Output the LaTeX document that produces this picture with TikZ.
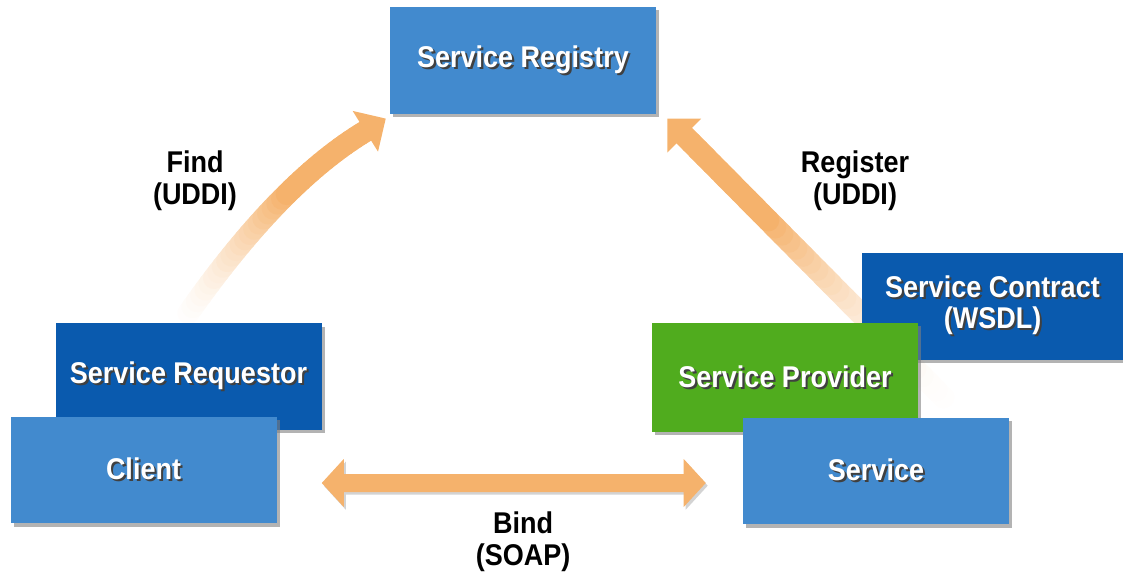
\documentclass[tikz,border=0pt]{standalone}
\usepackage{fontspec}
\setmainfont{Liberation Sans}[FakeStretch=0.9]
\usetikzlibrary{shadows,calc,backgrounds}
\definecolor{midblue}{RGB}{66,138,206}
\definecolor{darkblue}{RGB}{10,90,174}
\definecolor{provgreen}{RGB}{80,172,30}
\definecolor{arrowc}{RGB}{245,178,108}
\newcommand{\shtxt}[1]{\leavevmode\rlap{\hspace{1.6pt}\raisebox{-1.6pt}{\textcolor{black!75}{#1}}}\textcolor{white}{#1}}
\begin{document}
\begin{tikzpicture}[x=0.75pt,y=-0.75pt,
  box/.style={rectangle, minimum width=199.5pt, minimum height=80pt, inner sep=0pt, align=center,
    font=\fontsize{22.5}{23}\selectfont\bfseries,
    drop shadow={shadow xshift=2.5pt, shadow yshift=-2.5pt, opacity=0.6}},
  lbl/.style={align=center, inner sep=0pt, text=black, font=\fontsize{22.5}{24}\selectfont\bfseries},
  flow/.style={line width=16.5pt, line cap=round},
  head/.style={fill=arrowc}]
\useasboundingbox (0,0) rectangle (1123,577);

% boxes
\node[box, fill=midblue] (reg) at (523,60.5) {\shtxt{Service Registry}};
\node[box, fill=darkblue, minimum width=195.75pt] (contract) at (992.5,306.5) {\shtxt{Service Contract}\\\shtxt{(WSDL)}};
\node[box, fill=provgreen, minimum height=81.75pt] (prov) at (785,377.5) {\shtxt{Service Provider}};
\node[box, fill=midblue] (serv) at (876,471) {\shtxt{Service}};
\node[box, fill=darkblue] (req) at (188.5,376.5) {\shtxt{Service Requestor}};
\node[box, fill=midblue] (client) at (143.5,470) {\shtxt{Client}};

% connector end points
\coordinate (fS) at ($(req.north west)+(125,2)$);
\coordinate (fC1) at (235,245);
\coordinate (fC2) at (297.8,172.1);
\coordinate (fT) at ($(reg.south west)+(-4,4.5)$);
\coordinate (fE) at ($(fT)+(-20.4,12.7)$);
\coordinate (rS) at ($(serv.north east)+(-45,1)$);
\coordinate (rT) at ($(reg.south east)+(11,4.5)$);
\coordinate (rE) at ($(rT)+(17,17)$);

\begin{scope}[on background layer]
\foreach \i in {0,...,40}{
  \pgfmathsetmacro\ft{\i/40}
  \path (fS) .. controls (fC1) and (fC2) .. (fE) coordinate[pos=\ft] (f\i);
  \path (rS) -- (rE) coordinate[pos=\ft] (r\i);
}
\foreach \i in {0,...,39}{
  \pgfmathtruncatemacro\j{\i+1}
  \pgfmathtruncatemacro\pf{100*pow(min(1,\i/24),1.5)}
  \pgfmathtruncatemacro\pr{100*pow(min(1,\i/28),2)}
  \draw[flow, arrowc!\pr!white] (r\i) -- (r\j);
  \draw[flow, arrowc!\pf!white] (f\i) -- (f\j);
}
\fill[head] (fT) -- ($(fE)!18pt!90:(fT)$) -- ($(fE)!18pt!-90:(fT)$) -- cycle;
\fill[head] (rT) -- ($(rE)!18pt!90:(rT)$) -- ($(rE)!18pt!-90:(rT)$) -- cycle;
\end{scope}

% bind arrow
\coordinate (bL) at ($(client.east)+(45,13)$);
\coordinate (bR) at ($(serv.west)+(-37,12)$);
\fill[arrowc, drop shadow={shadow xshift=1.5pt, shadow yshift=-2pt, opacity=0.35}]
  (bL) -- ++(22,-24) -- ++(0,15) -- ($(bR)+(-22,-9)$) -- ++(0,-15) -- (bR)
  -- ++(-22,24) -- ++(0,-15) -- ($(bL)+(22,9)$) -- ++(0,15) -- cycle;

% labels
\node[lbl] (findl) at (195,181) {Find\\(UDDI)};
\node[lbl] (regl) at (855,181) {Register\\(UDDI)};
\node[lbl] (bindl) at (523,542) {Bind\\(SOAP)};
\end{tikzpicture}
\end{document}
